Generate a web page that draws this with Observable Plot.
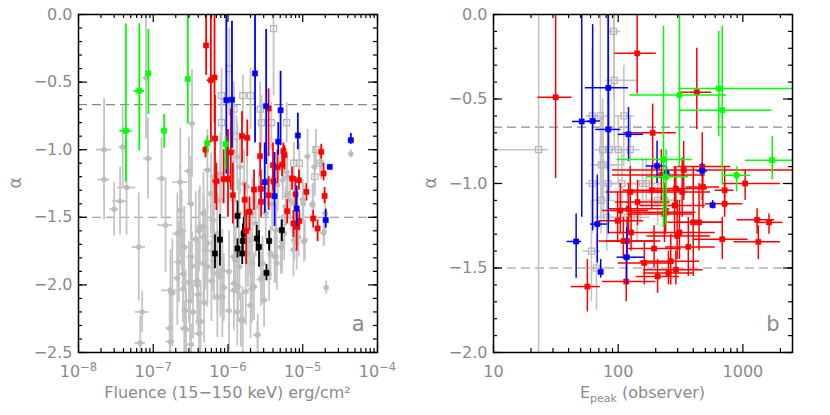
<!DOCTYPE html>
<html><head><meta charset="utf-8">
<script src="https://cdn.jsdelivr.net/npm/d3@7"></script>
<script src="https://cdn.jsdelivr.net/npm/@observablehq/plot@0.6"></script>
<style>
body{margin:0;background:#fff;}
#wrap{display:flex;width:830px;height:415px;}
</style></head><body><div id="wrap"></div>
<script>
// ---------- Panel a: alpha vs fluence (15-150 keV) ----------
// gray filled circles: [fluence, alpha, fluence error (dex), alpha error]
const aGrayDots = [
[2.2e-8,-1.0,0.1,0.38],[2.2e-8,-1.22,0.08,0.3],[3.0e-8,-1.44,0.06,0.2],[3.6e-8,-1.38,0.1,0.25],
[3.9e-8,-0.98,0.05,0.3],[4.4e-8,-1.28,0.12,0.35],[6.4e-8,-1.72,0.09,0.4],[6.7e-8,-2.43,0.07,0.2],
[7.1e-8,-2.2,0.09,0.15],[8.5e-8,-1.065,0.06,0.3],[8.0e-8,-0.47,0.04,0.45],[1.29e-7,-1.213,0.06,0.3],
[1.46e-7,-1.558,0.1,0.35],[1.7e-7,-2.04,0.12,0.3],[1.66e-7,-2.32,0.05,0.3],[1.7e-7,-2.42,0.06,0.2],
[1.8e-7,-2.06,0.05,0.4],[2.3e-7,-1.24,0.1,0.4],[2.3e-7,-1.45,0.05,0.35],[2.4e-7,-1.6,0.07,0.3],
[2.5e-7,-1.92,0.06,0.3],[2.6e-7,-2.32,0.05,0.2],[3.0e-7,-1.98,0.1,0.3],[3.2e-7,-1.40,0.05,0.35],
[3.3e-7,-0.806,0.04,0.4],[3.0e-7,-1.157,0.06,0.25],[3.2e-7,-1.79,0.05,0.25],[3.3e-7,-1.86,0.05,0.25],
[3.1e-7,-2.12,0.05,0.3],[3.4e-7,-2.2,0.06,0.2],[3.2e-7,-2.44,0.05,0.15],[4.1e-7,-2.36,0.06,0.25],
[4.3e-7,-2.27,0.07,0.3],[4.1e-7,-1.6,0.05,0.3],[2.1e-7,-1.62,0.06,0.3],[2.1e-7,-1.95,0.05,0.35],
[2.2e-7,-1.83,0.06,0.3],[2.6e-7,-1.72,0.05,0.3],[2.5e-7,-2.03,0.05,0.25],[2.7e-7,-2.19,0.05,0.3],
[2.75e-7,-2.33,0.06,0.3],[3.7e-7,-1.66,0.05,0.35],[3.9e-7,-1.97,0.05,0.3],[4.0e-7,-2.07,0.06,0.3],
[4.7e-7,-1.84,0.05,0.3],[4.7e-7,-1.57,0.05,0.25],[4.8e-7,-2.13,0.05,0.3],[5.3e-7,-1.69,0.05,0.3],
[6.0e-7,-1.97,0.06,0.3],[6.2e-7,-1.75,0.05,0.3],[6.5e-7,-1.64,0.05,0.3],[7.2e-7,-2.09,0.06,0.3],
[8.4e-7,-1.89,0.05,0.3],[8.8e-7,-2.02,0.05,0.25],[1.2e-6,-1.79,0.05,0.3],[1.2e-6,-1.99,0.05,0.25],
[1.33e-6,-2.2,0.05,0.25],[1.56e-6,-2.26,0.05,0.2],[2.0e-6,-2.15,0.05,0.25],[2.1e-6,-1.84,0.05,0.25],
[2.1e-6,-2.03,0.05,0.25],[2.5e-6,-2.37,0.05,0.15],[2.9e-6,-1.84,0.05,0.2],[2.75e-6,-1.96,0.05,0.2],
[3.55e-6,-1.92,0.04,0.2],[5.1e-6,-1.72,0.04,0.2],[8.3e-6,-1.69,0.04,0.2],[1.07e-5,-1.67,0.04,0.15],
[1.36e-5,-1.41,0.04,0.15],[2.0e-5,-1.47,0.04,0.15],[2.06e-5,-2.02,0.03,0.05],[4.4e-5,-1.03,0.02,0.03],
[1.93e-5,-1.61,0.04,0.1],[1.0e-5,-1.37,0.04,0.15],[6.2e-6,-1.34,0.04,0.15],[5.9e-6,-1.42,0.04,0.15],
[8.1e-6,-1.55,0.04,0.15],[7.5e-6,-1.74,0.04,0.2],[5.3e-6,-1.68,0.04,0.2],[4.4e-6,-1.79,0.04,0.2],
[6.2e-6,-1.20,0.04,0.15],[5.4e-6,-1.115,0.04,0.15],[1.48e-6,-2.26,0.05,0.2],[1.18e-6,-1.016,0.05,0.2],
[1.33e-6,-1.053,0.05,0.25],[1.45e-6,-1.127,0.05,0.2],[1.64e-6,-1.25,0.05,0.25],[6.5e-7,-1.2,0.05,0.3],
[7.9e-7,-1.176,0.05,0.3],[5.3e-7,-1.15,0.05,0.3],[7.9e-7,-1.373,0.05,0.3],[1.2e-6,-1.373,0.05,0.3],
[1.4e-6,-1.47,0.05,0.25],[1.8e-6,-1.275,0.05,0.25],[2.12e-6,-1.47,0.05,0.25],[2.6e-6,-1.42,0.05,0.25],
[4.6e-6,-1.26,0.04,0.2],[5.4e-6,-1.225,0.04,0.15],[6.1e-6,-1.164,0.04,0.15],[3.4e-6,-1.225,0.04,0.2],
[3.9e-6,-1.40,0.04,0.2],[1.16e-5,-1.05,0.04,0.2],[1.43e-5,-1.127,0.04,0.15],[1.75e-5,-1.10,0.04,0.12],
[6.5e-7,-1.82,0.05,0.3],[7.2e-7,-1.916,0.05,0.3],[8.4e-7,-2.09,0.05,0.3],[1.03e-6,-2.19,0.05,0.3],
[1.03e-6,-1.90,0.05,0.3],[1.2e-6,-2.04,0.05,0.3],[1.27e-6,-1.817,0.05,0.25],[1.42e-6,-1.866,0.05,0.25],
[1.57e-6,-2.266,0.05,0.25],[1.85e-6,-1.768,0.05,0.25],[1.97e-6,-1.67,0.05,0.25],[2.23e-6,-2.014,0.05,0.25],
[2.35e-6,-1.546,0.05,0.25],[2.48e-6,-2.37,0.05,0.1],[2.9e-6,-1.94,0.05,0.2],[3.04e-6,-2.113,0.05,0.2],
[3.2e-6,-1.47,0.05,0.2],[3.7e-6,-1.768,0.04,0.2],[4.2e-6,-1.79,0.04,0.2],[4.5e-6,-1.84,0.04,0.2],
[4.4e-6,-1.595,0.04,0.2],[5.25e-6,-1.72,0.04,0.2],[5.65e-6,-1.62,0.04,0.2],[6.25e-6,-1.324,0.04,0.15],
[6.8e-6,-1.373,0.04,0.15],[7.7e-6,-1.40,0.04,0.15],[7.7e-6,-1.67,0.04,0.15],[8.8e-6,-1.645,0.04,0.15],
[1.02e-5,-1.40,0.04,0.15],[1.04e-5,-1.68,0.04,0.15],[1.36e-5,-1.40,0.04,0.15],[1.9e-5,-1.615,0.04,0.1],
[4.7e-7,-1.47,0.05,0.3],[4.7e-7,-1.645,0.05,0.3],[3.9e-7,-2.0,0.05,0.3],[5.0e-7,-1.74,0.05,0.3],
[5.3e-7,-1.866,0.05,0.3],[5.9e-7,-1.324,0.05,0.3],[6.3e-7,-1.52,0.05,0.3],[7.2e-7,-1.62,0.05,0.3],
[7.9e-7,-1.94,0.05,0.3],[1.36e-6,-2.01,0.05,0.25],[1.73e-6,-2.05,0.05,0.25],[4.2e-7,-1.57,0.05,0.3]
];
// gray open squares: [fluence, alpha, alpha min, alpha max]
const aGraySquares = [
[4.07e-6,-0.104,-0.6,0.0],[1.04e-6,-0.40,-0.75,-0.1],[8.2e-7,-0.60,-0.85,-0.4],[1.58e-6,-0.60,-0.8,-0.45],
[2.0e-6,-0.60,-0.85,-0.4],[1.2e-6,-0.70,-0.9,-0.5],[2.7e-6,-0.70,-1.0,-0.5],[8.2e-7,-0.80,-1.0,-0.6],
[1.3e-6,-0.90,-1.1,-0.75],[2.8e-6,-0.80,-1.0,-0.6],[3.8e-6,-0.80,-1.0,-0.65],[6.1e-6,-0.80,-0.95,-0.65],
[1.5e-5,-1.0,-1.15,-0.85],[7.6e-6,-1.1,-1.25,-0.95],[9.0e-6,-1.1,-1.25,-0.95],[1.45e-5,-1.2,-1.35,-1.05],
[8.0e-7,-1.2,-1.4,-1.0],[1.7e-5,-1.1,-1.2,-1.0]
];
// coloured samples: [fluence, alpha, alpha min, alpha max, fluence error (dex)]
const aBlack = [
[6.7e-7,-1.768,-1.88,-1.63,0.02],[7.8e-7,-1.665,-1.86,-1.48,0.03],[1.34e-6,-1.49,-1.58,-1.38,0.02],
[1.34e-6,-1.731,-1.8,-1.66,0.02],[1.55e-6,-1.768,-1.85,-1.6,0.02],[1.58e-6,-1.675,-1.78,-1.55,0.02],
[1.62e-6,-1.62,-1.7,-1.5,0.02],[2.43e-6,-1.657,-1.75,-1.56,0.02],[2.6e-6,-1.72,-1.87,-1.6,0.02],
[3.55e-6,-1.675,-1.75,-1.6,0.02],[5.25e-6,-1.595,-1.68,-1.52,0.02],[3.27e-6,-1.91,-1.97,-1.85,0.02]
];
const aRed = [
[5.1e-7,-0.229,-0.45,0.0,0.03],[5.0e-7,-1.0,-1.06,-0.95,0.02],[5.9e-7,-0.486,-0.95,0.0,0.05],
[6.6e-7,-0.466,-0.8,0.0,0.03],[6.7e-7,-0.917,-1.4,-0.6,0.03],[7.0e-7,-1.233,-1.45,-1.1,0.05],
[8.75e-7,-1.218,-1.4,-1.0,0.03],[1.0e-6,-1.218,-1.5,-0.85,0.03],[1.09e-6,-1.02,-1.3,-0.7,0.02],
[1.16e-6,-1.337,-1.55,-1.1,0.02],[1.54e-6,-0.9,-1.1,-0.72,0.02],[1.81e-6,-0.912,-1.05,-0.78,0.02],
[1.67e-6,-1.37,-1.5,-1.25,0.02],[1.75e-6,-1.6,-1.85,-1.45,0.02],[1.94e-6,-1.46,-1.6,-1.35,0.02],
[2.23e-6,-1.295,-1.45,-1.15,0.02],[2.69e-6,-1.048,-1.2,-0.95,0.02],[2.75e-6,-1.29,-1.4,-1.15,0.02],
[2.77e-6,-1.386,-1.5,-1.25,0.02],[3.49e-6,-0.695,-1.05,-0.55,0.02],[3.5e-6,-1.337,-1.45,-1.2,0.02],
[4.0e-6,-1.115,-1.3,-0.95,0.02],[4.05e-6,-1.233,-1.35,-1.1,0.02],[4.6e-6,-1.13,-1.25,-1.0,0.02],
[5.3e-6,-1.11,-1.2,-1.0,0.02],[5.5e-6,-1.01,-1.1,-0.95,0.02],[5.7e-6,-1.04,-1.15,-0.97,0.02],
[6.2e-6,-1.455,-1.55,-1.37,0.02],[7.2e-6,-1.213,-1.3,-1.13,0.02],[7.5e-6,-1.546,-1.65,-1.45,0.02],
[8.0e-6,-1.33,-1.45,-1.2,0.02],[8.3e-6,-1.57,-1.75,-1.45,0.02],[8.9e-6,-1.226,-1.3,-1.15,0.02],
[9.0e-6,-1.527,-1.6,-1.45,0.02],[1.12e-5,-1.312,-1.38,-1.25,0.02],[1.38e-5,-1.509,-1.58,-1.45,0.02],
[1.58e-5,-1.583,-1.68,-1.52,0.02],[1.77e-5,-1.016,-1.07,-0.96,0.02],[1.9e-5,-1.176,-1.23,-1.1,0.02],
[1.96e-5,-1.342,-1.4,-1.28,0.02]
];
const aBlue = [
[9.5e-7,-0.634,-1.18,0.0,0.02],[1.13e-6,-0.63,-0.99,-0.05,0.02],[2.3e-6,-0.436,-0.95,0.0,0.02],
[3.24e-6,-0.678,-1.11,-0.11,0.02],[5.05e-6,-0.708,-0.97,-0.42,0.02],[4.7e-6,-0.94,-1.04,-0.8,0.02],
[8.6e-6,-0.895,-1.0,-0.73,0.02],[4.4e-5,-0.93,-0.96,-0.88,0.03],[2.3e-5,-1.127,-1.14,-1.11,0.03],
[3.1e-6,-1.24,-1.47,-0.95,0.02],[4.2e-6,-1.344,-1.57,-1.02,0.02],[8.3e-6,-1.435,-1.57,-1.27,0.02],
[2.03e-5,-1.52,-1.58,-1.44,0.03]
];
const aGreen = [
[4.3e-8,-0.86,-1.24,-0.07,0.08],[6.5e-8,-0.565,-1.01,-0.07,0.07],[8.6e-8,-0.436,-0.74,-0.11,0.03],
[1.4e-7,-0.86,-0.99,-0.74,0.04],[2.9e-7,-0.478,-0.81,0.0,0.03],[5.3e-7,-0.95,-1.03,-0.9,0.03],
[9.3e-7,-0.96,-1.15,-0.9,0.03]
];

// ---------- Panel b: alpha vs Epeak (observer) ----------
// rows: [Epeak, alpha, Epeak min, Epeak max, alpha min, alpha max]
const bGraySquares = [
[23,-0.80,10,27.5,-2.0,0.0],[92,-0.10,85,105,-0.5,0.0],[93,-0.39,80,145,-0.8,0.0],[62,-0.60,55,70,-1.0,-0.2],
[72,-0.60,62,85,-1.0,0.0],[111,-0.60,95,135,-0.9,-0.3],[75,-0.80,65,90,-1.1,-0.5],[85,-0.80,70,110,-1.1,-0.45],
[100,-0.80,85,125,-1.0,-0.6],[125,-0.80,100,150,-1.0,-0.6],[73,-0.89,60,100,-1.2,-0.6],[76,-0.89,62,110,-1.2,-0.6],
[62,-1.0,55,75,-1.3,-0.6],[83,-1.0,70,110,-1.2,-0.8],[107,-1.0,90,140,-1.2,-0.8],[157,-1.0,120,220,-1.15,-0.85],
[168,-1.0,130,230,-1.15,-0.85],[73,-1.1,60,95,-1.3,-0.9],[207,-1.1,160,280,-1.25,-0.95],[237,-1.1,180,330,-1.25,-0.95],
[81,-1.2,65,100,-1.4,-1.0],[118,-1.2,95,150,-1.35,-1.05],[142,-1.2,115,180,-1.35,-1.05],[61,-1.4,52,72,-1.7,-1.1],
[67,-1.5,58,80,-1.75,-1.3]
];
const bRed = [
[31.5,-0.49,22.7,42.6,-0.97,0.0],[142,-0.23,94,202,-0.47,0.0],[427,-0.46,316,562,-0.68,-0.2],
[189,-0.70,111,292,-0.92,-0.53],[56.6,-1.61,42,72,-1.76,-1.45],[99,-1.22,70,160,-1.35,-1.05],
[104,-1.16,75,175,-1.3,-1.0],[110,-1.34,70,200,-1.45,-1.2],[118,-1.34,80,220,-1.45,-1.2],
[121,-1.15,85,260,-1.3,-1.0],[125,-1.05,80,250,-1.2,-0.9],[127,-1.29,85,240,-1.4,-1.15],
[116,-1.58,75,200,-1.7,-1.45],[143,-1.11,95,260,-1.25,-0.98],[162,-1.47,100,280,-1.6,-1.35],
[186,-1.04,110,330,-1.15,-0.9],[194,-1.385,120,320,-1.5,-1.25],[207,-1.55,140,310,-1.65,-1.45],
[222,-0.95,90,500,-1.1,-0.8],[235,-1.18,120,400,-1.35,-1.0],[253,-1.53,160,400,-1.6,-1.4],
[264,-1.46,150,450,-1.6,-1.3],[283,-1.13,150,500,-1.3,-0.9],[290,-1.03,180,520,-1.15,-0.9],
[290,-1.51,160,480,-1.6,-1.4],[297,-1.31,170,550,-1.45,-1.1],[310,-1.29,180,600,-1.45,-1.1],
[326,-1.05,200,550,-1.2,-0.85],[335,-0.92,90,2500,-1.1,-0.75],[365,-1.375,240,600,-1.55,-1.2],
[400,-1.23,250,700,-1.55,-0.9],[445,-1.23,300,700,-1.4,-1.0],[472,-0.90,300,800,-1.1,-0.7],
[478,-1.02,350,650,-1.15,-0.9],[683,-1.33,400,1100,-1.45,-1.2],[714,-1.04,600,850,-1.15,-0.9],
[714,-1.12,500,1000,-1.2,-1.0],[1043,-1.0,700,2000,-1.1,-0.92],[1300,-1.215,900,1800,-1.3,-1.15],
[1330,-1.345,850,2000,-1.45,-1.25],[1620,-1.23,1300,2100,-1.3,-1.18],[240,-1.17,130,420,-1.3,-1.05]
];
const bBlue = [
[46,-1.343,39,51,-1.56,-1.18],[51,-0.633,43,60,-1.2,0.0],[62.4,-0.63,57,72,-1.28,-0.06],
[68,-1.24,60,82,-1.47,-0.95],[72.4,-1.523,69,76,-1.56,-1.45],[83.3,-0.434,54.6,121,-0.93,0.0],
[83.3,-0.68,66,105,-1.3,0.0],[121,-0.709,100,160,-0.87,-0.55],[117,-1.436,98,163,-1.6,-1.26],
[205,-0.896,168,240,-1.0,-0.75],[244,-0.94,230,260,-0.98,-0.9],[472,-0.925,430,520,-0.96,-0.88],
[572,-1.128,545,600,-1.15,-1.1]
];
const bGreen = [
[310,-0.477,124,740,-0.9,0.0],[641,-0.438,303,2500,-0.72,-0.1],[683,-0.566,310,1700,-1.01,-0.07],
[231,-0.858,98,393,-1.26,-0.07],[242,-0.96,169,368,-1.25,-0.8],[890,-0.951,700,1150,-1.05,-0.9],
[1720,-0.862,1050,2500,-0.98,-0.72]
];

// reference lines and ticks
const refAlpha = [-2/3, -1.5];
const aXMajor = [1e-8, 1e-7, 1e-6, 1e-5, 1e-4];
const aXLabels = ["10^−8", "10^−7", "10^−6", "10^−5", "10^−4"];
const aYMajor = [0, -0.5, -1, -1.5, -2, -2.5];
const bXMajor = [10, 100, 1000];
const bXLabels = ["10", "100", "1000"];
const bYMajor = [0, -0.5, -1, -1.5, -2];

const GRAY = "#c4c4c4", TXT = "#8a8a8a";
const FW = 415 - 78 - 38, FH = 415 - 14 - 63; // frame size in px
const logMinor = (lo, hi) => { const t = []; for (let e = Math.floor(Math.log10(lo)); e < Math.ceil(Math.log10(hi)); e++) for (let m = 2; m <= 9; m++) { const v = m * 10 ** e; if (v > lo && v < hi) t.push(v); } return t; };
const linMinor = (lo, hi) => d3.range(Math.round(lo * 10), Math.round(hi * 10) + 1).map(v => v / 10);

// inward ticks on all four sides, drawn as tick marks inset from the frame
function frameAxes(xMajor, xMinor, yMajor, yMinor, xLabels, yFmt) {
  const s = {stroke: "black", strokeWidth: 1.2};
  const tx = (vals, len) => [
    Plot.tickX(vals, {x: d => d, insetTop: FH - len, ...s}),
    Plot.tickX(vals, {x: d => d, insetBottom: FH - len, ...s})
  ];
  const ty = (vals, len) => [
    Plot.tickY(vals, {y: d => d, insetRight: FW - len, ...s}),
    Plot.tickY(vals, {y: d => d, insetLeft: FW - len, ...s})
  ];
  return [
    ...tx(xMajor, 8), ...tx(xMinor, 4), ...ty(yMajor, 9), ...ty(yMinor, 4),
    Plot.axisX({anchor: "bottom", ticks: xMajor, tickSize: 0, tickPadding: 13, fontSize: 16, fill: TXT,
      tickFormat: d => xLabels[xMajor.indexOf(d)]}),
    Plot.axisY({anchor: "left", ticks: yMajor, tickSize: 0, tickPadding: 6, fontSize: 16, fill: TXT, tickFormat: yFmt}),
    Plot.frame({stroke: "black", strokeWidth: 1.5})
  ];
}
const yFmt = d => (d === 0 ? "0.0" : d.toFixed(1).replace("-", "−"));

// error bar helpers
function errA(data, color, w) {
  return [
    Plot.ruleX(data, {x: d => d[0], y1: d => d[2], y2: d => d[3], stroke: color, strokeWidth: w, clip: true}),
    Plot.ruleY(data, {y: d => d[1], x1: d => d[0] / 10 ** d[4], x2: d => d[0] * 10 ** d[4], stroke: color, strokeWidth: w, clip: true})
  ];
}
function errB(data, color, w) {
  return [
    Plot.ruleX(data, {x: d => d[0], y1: d => d[4], y2: d => d[5], stroke: color, strokeWidth: w, clip: true}),
    Plot.ruleY(data, {y: d => d[1], x1: d => d[2], x2: d => d[3], stroke: color, strokeWidth: w, clip: true})
  ];
}
const sq = (data, color) => Plot.dot(data, {x: d => d[0], y: d => d[1], symbol: "square", r: 2.9, fill: color, stroke: color, strokeWidth: 0.6, clip: true});

const base = {width: 415, height: 415, marginLeft: 78, marginRight: 38, marginTop: 14, marginBottom: 63,
  style: {background: "white", fontFamily: "DejaVu Sans, sans-serif", overflow: "visible"}};

// ----- panel a -----
const svgA = Plot.plot({
  ...base,
  x: {type: "log", domain: [1e-8, 1e-4], axis: null},
  y: {domain: [-2.5, 0], axis: null},
  marks: [
    Plot.ruleY(refAlpha, {stroke: "#8a8a8a", strokeDasharray: "9,5", strokeWidth: 1.1}),
    Plot.ruleX(aGrayDots, {x: d => d[0], y1: d => d[1] - d[3], y2: d => d[1] + d[3], stroke: GRAY, strokeWidth: 1.8, clip: true}),
    Plot.ruleY(aGrayDots, {y: d => d[1], x1: d => d[0] / 10 ** d[2], x2: d => d[0] * 10 ** d[2], stroke: GRAY, strokeWidth: 1.8, clip: true}),
    Plot.ruleX(aGraySquares, {x: d => d[0], y1: d => d[2], y2: d => d[3], stroke: GRAY, strokeWidth: 1.8, clip: true}),
    Plot.dot(aGrayDots, {x: d => d[0], y: d => d[1], r: 2.7, fill: "#bdbdbd", clip: true}),
    Plot.dot(aGraySquares, {x: d => d[0], y: d => d[1], symbol: "square", r: 3.4, stroke: "#b5b5b5", strokeWidth: 1.2, fill: "none", clip: true}),
    ...errA(aBlack, "black", 1.8), sq(aBlack, "black"),
    ...errA(aRed, "#ff0000", 1.8), sq(aRed, "#ff0000"),
    ...errA(aBlue, "#0000ff", 1.8), sq(aBlue, "#0000ff"),
    ...errA(aGreen, "#00ff00", 1.8), sq(aGreen, "#00ff00"),
    ...frameAxes(aXMajor, logMinor(1e-8, 1e-4), aYMajor, linMinor(-2.5, 0), aXLabels, yFmt),
    Plot.text(["a"], {frameAnchor: "bottom-right", dx: -13, dy: -22, fontSize: 21, fill: TXT})
  ]
});

// ----- panel b -----
const svgB = Plot.plot({
  ...base,
  x: {type: "log", domain: [10, 2500], axis: null},
  y: {domain: [-2, 0], axis: null},
  marks: [
    Plot.ruleY(refAlpha, {stroke: "#8a8a8a", strokeDasharray: "9,5", strokeWidth: 1.1}),
    ...errB(bGraySquares, GRAY, 1.6),
    Plot.dot(bGraySquares, {x: d => d[0], y: d => d[1], symbol: "square", r: 3.4, stroke: "#b5b5b5", strokeWidth: 1.2, fill: "none", clip: true}),
    ...errB(bRed, "#ff0000", 1.5), sq(bRed, "#ff0000"),
    ...errB(bBlue, "#0000ff", 1.5), sq(bBlue, "#0000ff"),
    ...errB(bGreen, "#00ff00", 1.5), sq(bGreen, "#00ff00"),
    ...frameAxes(bXMajor, logMinor(10, 2500), bYMajor, linMinor(-2, 0), bXLabels, yFmt),
    Plot.text(["b"], {frameAnchor: "bottom-right", dx: -13, dy: -22, fontSize: 21, fill: TXT})
  ]
});

// superscripts for the power-of-ten tick labels
d3.select(svgA).selectAll('g[aria-label="x-axis tick label"] text').each(function () {
  const m = this.textContent.match(/^10\^(.*)$/);
  if (m) {
    this.textContent = "";
    d3.select(this).append("tspan").text("10");
    d3.select(this).append("tspan").attr("dy", "-0.5em").attr("font-size", "0.72em").text(m[1]);
  }
});

function titles(svg, xTitle, sub, rest) {
  const s = d3.select(svg);
  const t = s.append("text").attr("x", (78 + 377) / 2).attr("y", 398).attr("text-anchor", "middle")
    .attr("font-size", 16).attr("fill", TXT).attr("font-family", "DejaVu Sans, sans-serif");
  t.append("tspan").text(xTitle);
  if (sub) {
    t.append("tspan").attr("font-size", 11).attr("dy", 4).text(sub);
    t.append("tspan").attr("dy", -4).text(rest);
  }
  s.append("text").attr("transform", "translate(21,183) rotate(-90)").attr("text-anchor", "middle")
    .attr("font-size", 17).attr("fill", TXT).attr("font-family", "DejaVu Sans, sans-serif").text("α");
}
titles(svgA, "Fluence (15−150 keV) erg/cm²");
titles(svgB, "E", "peak", " (observer)");

document.getElementById("wrap").append(svgA, svgB);
</script></body></html>
